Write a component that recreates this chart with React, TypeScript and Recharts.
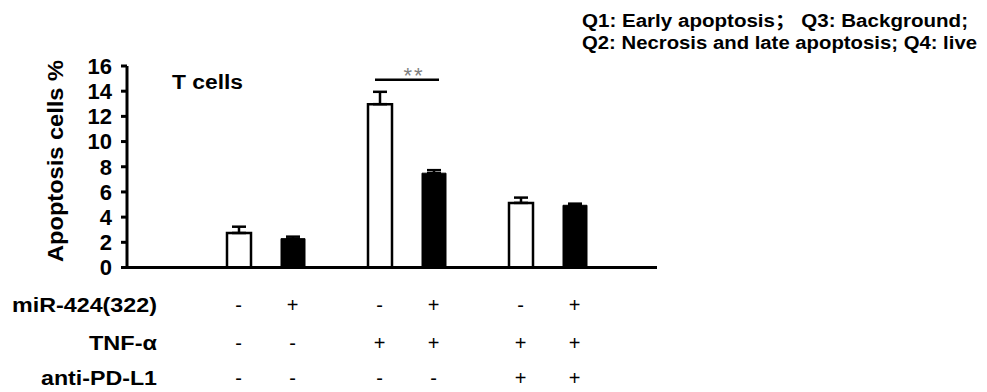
import React from 'react';
import { BarChart, Bar, XAxis, YAxis, ErrorBar, LabelList } from 'recharts';

// ---- data ----
const groups = ['Control', 'TNF-α', 'TNF-α + anti-PD-L1'];
const ctrlValues = [2.74, 12.97, 5.13]; // miR-424(322) -
const mirValues = [2.29, 7.49, 4.94]; // miR-424(322) +
const ctrlErrors = [0.5, 0.98, 0.42];
const mirErrors = [0.16, 0.24, 0.13];
const yTicks = [0, 2, 4, 6, 8, 10, 12, 14, 16];
const rowLabels = ['miR-424(322)', 'TNF-α', 'anti-PD-L1'];
const mirRow = ['-', '+', '-', '+', '-', '+'];
const tnfRow = ['-', '-', '+', '+', '+', '+'];
const pdl1Row = ['-', '-', '-', '-', '+', '+'];
const signRows = [mirRow, tnfRow, pdl1Row];
const sigIndex = 1;
const sigLevel = 14.9;
const sigText = '**';
const noteLine1 = ['Q1: Early  apoptosis', '\uFF1B', '  Q3: Background;'];
const noteLine2 = 'Q2: Necrosis and late apoptosis; Q4: live';
const panelTitle = 'T cells';
const yTitle = 'Apoptosis cells %';

const data = groups.map((g, i) => ({
  group: g,
  ctrl: ctrlValues[i],
  mir: mirValues[i],
  ctrlErr: [0, ctrlErrors[i]],
  mirErr: [0, mirErrors[i]],
}));

// ---- style ----
const FONT = "'Liberation Sans', Arial, Helvetica, sans-serif";
const CJK = "'Noto Sans CJK SC', 'Liberation Sans', sans-serif";
const BAR = 24;
const GAP = 30;
const rowBaselines = [312, 350, 385];
const rowLabelLengths = [145, 68, 116];

function SignTick(props: any) {
  const { x, payload } = props;
  const i = payload.index;
  const half = (BAR + GAP) / 2;
  return (
    <g>
      {i === 0 &&
        rowLabels.map((l, r) => (
          <text
            key={'l' + r}
            x={157}
            y={rowBaselines[r]}
            textAnchor="end"
            fontFamily={FONT}
            fontWeight="bold"
            fontSize={20}
            fill="#000"
            textLength={rowLabelLengths[r]}
            lengthAdjust="spacingAndGlyphs"
          >
            {l}
          </text>
        ))}
      {signRows.map((row, r) =>
        [0, 1].map((k) => (
          <text
            key={'s' + r + k}
            x={x + (k === 0 ? -half : half)}
            y={rowBaselines[r]}
            textAnchor="middle"
            fontFamily={FONT}
            fontSize={20}
            fill="#000"
          >
            {row[2 * i + k]}
          </text>
        ))
      )}
    </g>
  );
}

function SigLabel(props: any) {
  const { x, y, width, height, value, index } = props;
  if (index !== sigIndex) return null;
  const bx = Number(x);
  const by = Number(y);
  const w = Number(width);
  const h = Number(height);
  const v = Number(value);
  const lineY = by + h - (sigLevel * h) / v;
  const x1 = bx + 7;
  const x2 = bx + 2 * w + GAP - 7;
  return (
    <g>
      <line x1={x1} x2={x2} y1={lineY} y2={lineY} stroke="#000" strokeWidth={2.5} />
      <text
        x={(x1 + x2) / 2 + 7}
        y={lineY + 3}
        textAnchor="middle"
        fontFamily={FONT}
        fontSize={22}
        fill="#808080"
        letterSpacing={2}
      >
        {sigText}
      </text>
    </g>
  );
}

export default function App() {
  return (
    <div style={{ position: 'absolute', left: 0, top: 0, width: 987, height: 392, background: '#fff' }}>
      <BarChart
        width={987}
        height={392}
        data={data}
        margin={{ top: 66, right: 330, bottom: 0, left: 0 }}
        barGap={GAP}
        barSize={BAR}
      >
        <XAxis
          dataKey="group"
          height={124.5}
          axisLine={{ stroke: '#000', strokeWidth: 3 }}
          tickLine={false}
          tick={<SignTick />}
          interval={0}
          padding={{ left: 68, right: 39 }}
        />
        <YAxis
          domain={[0, 16]}
          ticks={yTicks}
          interval={0}
          width={127}
          axisLine={{ stroke: '#000', strokeWidth: 3 }}
          tickLine={{ stroke: '#000', strokeWidth: 3 }}
          tickSize={6}
          tickMargin={9}
          tick={{ fill: '#000', fontSize: 22, fontWeight: 'bold', fontFamily: FONT }}
        />
        <Bar dataKey="ctrl" fill="#fff" stroke="#000" strokeWidth={2.5} isAnimationActive={false}>
          <ErrorBar dataKey="ctrlErr" direction="y" width={7} stroke="#000" strokeWidth={2.5} />
          <LabelList dataKey="ctrl" content={SigLabel} />
        </Bar>
        <Bar dataKey="mir" fill="#000" stroke="#000" strokeWidth={1} isAnimationActive={false}>
          <ErrorBar dataKey="mirErr" direction="y" width={7} stroke="#000" strokeWidth={2.5} />
        </Bar>
      </BarChart>
      <svg
        width={987}
        height={392}
        style={{ position: 'absolute', left: 0, top: 0, pointerEvents: 'none' }}
      >
        <text
          x={172}
          y={89}
          fontFamily={FONT}
          fontWeight="bold"
          fontSize={20}
          fill="#000"
          textLength={71}
          lengthAdjust="spacingAndGlyphs"
        >
          {panelTitle}
        </text>
        <text
          x={63}
          y={161}
          transform="rotate(-90, 63, 161)"
          textAnchor="middle"
          fontFamily={FONT}
          fontWeight="bold"
          fontSize={22}
          fill="#000"
          textLength={202}
          lengthAdjust="spacingAndGlyphs"
        >
          {yTitle}
        </text>
        <text
          x={582}
          y={27}
          fontFamily={FONT}
          fontWeight="bold"
          fontSize={18}
          fill="#000"
          textLength={386}
          lengthAdjust="spacingAndGlyphs"
        >
          {noteLine1[0]}
          <tspan fontFamily={CJK}>{noteLine1[1]}</tspan>
          {noteLine1[2]}
        </text>
        <text
          x={582}
          y={49}
          fontFamily={FONT}
          fontWeight="bold"
          fontSize={18}
          fill="#000"
          textLength={395}
          lengthAdjust="spacingAndGlyphs"
        >
          {noteLine2}
        </text>
      </svg>
    </div>
  );
}
